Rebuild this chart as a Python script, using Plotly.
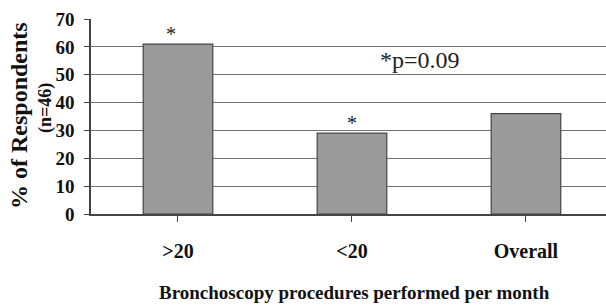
import plotly.graph_objects as go

categories = [">20", "<20", "Overall"]
values = [61, 29, 36]
y_ticks = [0, 10, 20, 30, 40, 50, 60, 70]
sig_labels = ["*", "*", ""]

SERIF = "Liberation Serif, Times New Roman, serif"

fig = go.Figure()
fig.add_trace(go.Bar(
    x=[0, 1, 2], y=values, width=0.40,
    marker=dict(color="#9a9a9a", line=dict(color="#444444", width=1.2)),
    showlegend=False, hoverinfo="skip",
))

# significance asterisks above bars
ast_offsets = [-0.04, 0.0, 0.0]
for i, (v, s) in enumerate(zip(values, sig_labels)):
    if s:
        fig.add_annotation(x=i + ast_offsets[i], y=v + 3.5, text=s, showarrow=False,
                           xref="x", yref="y", xanchor="center", yanchor="middle",
                           font=dict(family=SERIF, size=20, color="#222"))

fig.add_annotation(x=1.39, y=55.3, text="*p=0.09", showarrow=False,
                   xref="x", yref="y", xanchor="center", yanchor="middle",
                   font=dict(family=SERIF, size=24, color="#222"))

# axis titles
fig.add_annotation(x=-72 / 515, y=1 - (116 - 19) / 195, text="<b>% of Respondents</b>",
                   textangle=-90, showarrow=False, xref="paper", yref="paper",
                   xanchor="center", yanchor="middle",
                   font=dict(family=SERIF, size=24, color="#111"))
fig.add_annotation(x=-45 / 515, y=1 - (108 - 19) / 195, text="<b>(n=46)</b>",
                   textangle=-90, showarrow=False, xref="paper", yref="paper",
                   xanchor="center", yanchor="middle",
                   font=dict(family=SERIF, size=18, color="#111"))
fig.add_annotation(x=(354 - 91) / 515, y=-(292 - 214) / 195, text="<b>Bronchoscopy procedures performed per month</b>",
                   showarrow=False, xref="paper", yref="paper",
                   xanchor="center", yanchor="middle",
                   font=dict(family=SERIF, size=19, color="#111"))

fig.update_layout(
    width=606, height=305,
    margin=dict(l=91, r=0, t=19, b=91),
    paper_bgcolor="white", plot_bgcolor="white",
    bargap=0.6,
)
fig.update_xaxes(
    range=[-0.5, 2.46], automargin=False,
    tickmode="array", tickvals=[0, 1, 2], ticktext=[f"<b>{c}</b>" for c in categories],
    tickson="boundaries", ticks="outside", ticklen=6, tickcolor="#444",
    showline=True, linecolor="#444", linewidth=1.5,
    showgrid=False, zeroline=False,
    tickfont=dict(family=SERIF, size=20, color="#111"),
    ticklabelstandoff=12,
)
fig.update_yaxes(
    range=[0, 70], automargin=False,
    tickmode="array", tickvals=y_ticks, ticktext=[f"<b>{t}</b>" for t in y_ticks],
    ticks="outside", ticklen=5, tickcolor="#444",
    showline=True, linecolor="#444", linewidth=1.5,
    showgrid=True, gridcolor="#707070", gridwidth=1.4,
    zeroline=False,
    tickfont=dict(family=SERIF, size=19, color="#111"),
    ticklabelstandoff=6,
)

fig.write_html("out.html", config={"displayModeBar": False},
               post_script="document.body.style.margin='0';document.body.style.overflow='hidden';")
